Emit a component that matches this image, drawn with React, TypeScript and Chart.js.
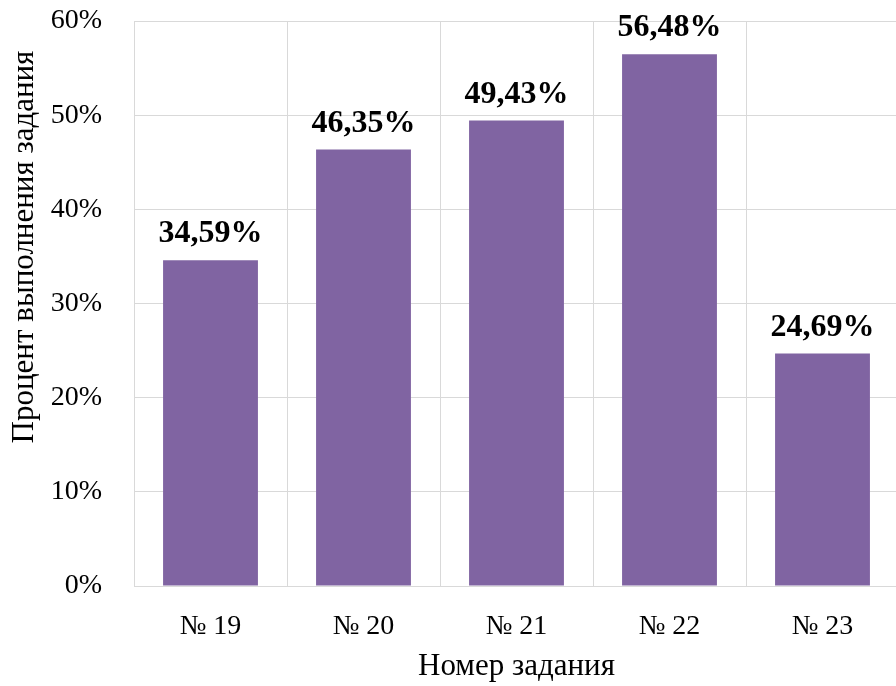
import React, { useEffect, useRef } from "react";
import { Chart, registerables } from "chart.js";

Chart.register(...registerables);

const categories = ["№ 19", "№ 20", "№ 21", "№ 22", "№ 23"];
const values = [34.59, 46.35, 49.43, 56.48, 24.69];
const yTicks = [0, 10, 20, 30, 40, 50, 60];
const xTitle = "Номер задания";
const yTitle = "Процент выполнения задания";

const SERIF = "'Liberation Serif', 'Times New Roman', serif";
const GRID = "#d9d9d9";
const BAR = "#8064a2";

const fmt = (v: number) => v.toFixed(2).replace(".", ",") + "%";

const labelsPlugin = {
  id: "barLabels",
  afterDatasetsDraw(chart: any) {
    const ctx = chart.ctx;
    const meta = chart.getDatasetMeta(0);
    ctx.save();
    ctx.font = `bold 32px ${SERIF}`;
    ctx.fillStyle = "#000";
    ctx.textAlign = "center";
    ctx.textBaseline = "alphabetic";
    meta.data.forEach((bar: any, i: number) => {
      ctx.fillText(fmt(values[i]), bar.x, bar.y - 18);
    });
    ctx.restore();
  },
};

const titlesPlugin = {
  id: "axisTitles",
  afterDraw(chart: any) {
    const ctx = chart.ctx;
    const a = chart.chartArea;
    ctx.save();
    ctx.font = `31px ${SERIF}`;
    ctx.fillStyle = "#000";
    ctx.textAlign = "center";
    ctx.textBaseline = "middle";
    ctx.fillText(xTitle, (a.left + a.right) / 2, a.bottom + 81);
    ctx.translate(25, a.top + 226);
    ctx.rotate(-Math.PI / 2);
    ctx.fillText(yTitle, 0, 0);
    ctx.restore();
  },
};

export default function App() {
  const ref = useRef<HTMLCanvasElement | null>(null);
  useEffect(() => {
    if (!ref.current) return;
    const chart = new Chart(ref.current, {
      type: "bar",
      data: {
        labels: categories,
        datasets: [
          {
            data: values,
            backgroundColor: BAR,
            borderWidth: 0,
            barPercentage: 0.62,
            categoryPercentage: 1,
          },
        ],
      },
      options: {
        animation: false,
        responsive: false,
        maintainAspectRatio: false,
        layout: { padding: { top: 21, right: 5, left: 0, bottom: 0 } },
        plugins: { legend: { display: false }, tooltip: { enabled: false } },
        scales: {
          x: {
            grid: { color: GRID, lineWidth: 1, drawTicks: false, offset: true },
            border: { color: GRID, width: 1 },
            ticks: { color: "#000", font: { family: SERIF, size: 28 }, padding: 24 },
            afterFit: (s: any) => {
              s.height = 100;
              s.paddingLeft = 0;
              s.paddingRight = 0;
            },
          },
          y: {
            min: 0,
            max: 60,
            afterBuildTicks: (s: any) => {
              s.ticks = yTicks.map((v) => ({ value: v }));
            },
            grid: { color: GRID, lineWidth: 1, drawTicks: false },
            border: { color: GRID, width: 1 },
            ticks: {
              color: "#000",
              font: { family: SERIF, size: 28 },
              padding: 32,
              callback: (v: any) => v + "%",
            },
            afterFit: (s: any) => {
              s.width = 134;
              s.paddingTop = 0;
              s.paddingBottom = 0;
            },
          },
        },
      },
      plugins: [labelsPlugin, titlesPlugin],
    });
    return () => chart.destroy();
  }, []);
  return (
    <div
      style={{
        position: "fixed",
        left: 0,
        top: 0,
        width: 896,
        height: 686,
        overflow: "hidden",
        background: "#fff",
      }}
    >
      <canvas ref={ref} width={904} height={686} style={{ display: "block" }} />
    </div>
  );
}
